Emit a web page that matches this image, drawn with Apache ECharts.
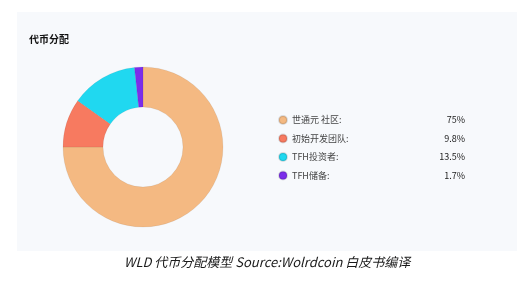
<!DOCTYPE html>
<html><head><meta charset="utf-8">
<script src="https://cdn.jsdelivr.net/npm/echarts@6/dist/echarts.min.js"></script>
<style>html,body{margin:0;padding:0;background:#fff;}#c{width:524px;height:283px;}</style>
</head><body><div id="c"></div>
<script>
const names = ['世通元 社区:', '初始开发团队:', 'TFH投资者:', 'TFH储备:'];
const values = [75, 9.8, 13.5, 1.7];
const valueLabels = ['75%', '9.8%', '13.5%', '1.7%'];
const colors = ['#F4B982', '#F77A60', '#20D8F0', '#7B2DEA'];
const titleText = '代币分配';
const captionText = 'WLD 代币分配模型 Source:Wolrdcoin 白皮书编译';

const chart = echarts.init(document.getElementById('c'), null, {renderer:'canvas'});
chart.setOption({
  animation:false,
  backgroundColor:'#fff',
  title:{text:titleText,left:24,top:29,textStyle:{fontSize:10,fontWeight:'bold',color:'#111',fontFamily:'Noto Sans CJK SC'}},
  graphic:[
    {type:'rect',z:-10,shape:{x:17,y:12,width:500,height:239},style:{fill:'#F7F9FC'}},
    {type:'text',x:124,y:262,style:{text:captionText,font:'italic 13px "Noto Sans CJK SC"',fill:'#1a1a1a',textVerticalAlign:'middle'}}
  ],
  legend:{
    orient:'vertical',left:273,top:110,itemWidth:8,itemHeight:8,itemGap:8.5,icon:'circle',
    textStyle:{fontSize:9,color:'#444',fontFamily:'Noto Sans CJK SC',
      rich:{n:{width:140,fontSize:9,color:'#444'},v:{width:33,align:'right',fontSize:9,color:'#222'}}},
    formatter:function(name){const i=names.indexOf(name);return '{n|'+name+'}{v|'+valueLabels[i]+'}';}
  },
  series:[{
    type:'pie',center:[143,147],radius:[40,80],startAngle:90,clockwise:true,
    label:{show:false},labelLine:{show:false},
    itemStyle:{borderColor:'rgba(0,0,0,0.12)',borderWidth:0.5},
    data:names.map((n,i)=>({name:n,value:values[i],itemStyle:{color:colors[i]}}))
  }]
});
</script></body></html>
